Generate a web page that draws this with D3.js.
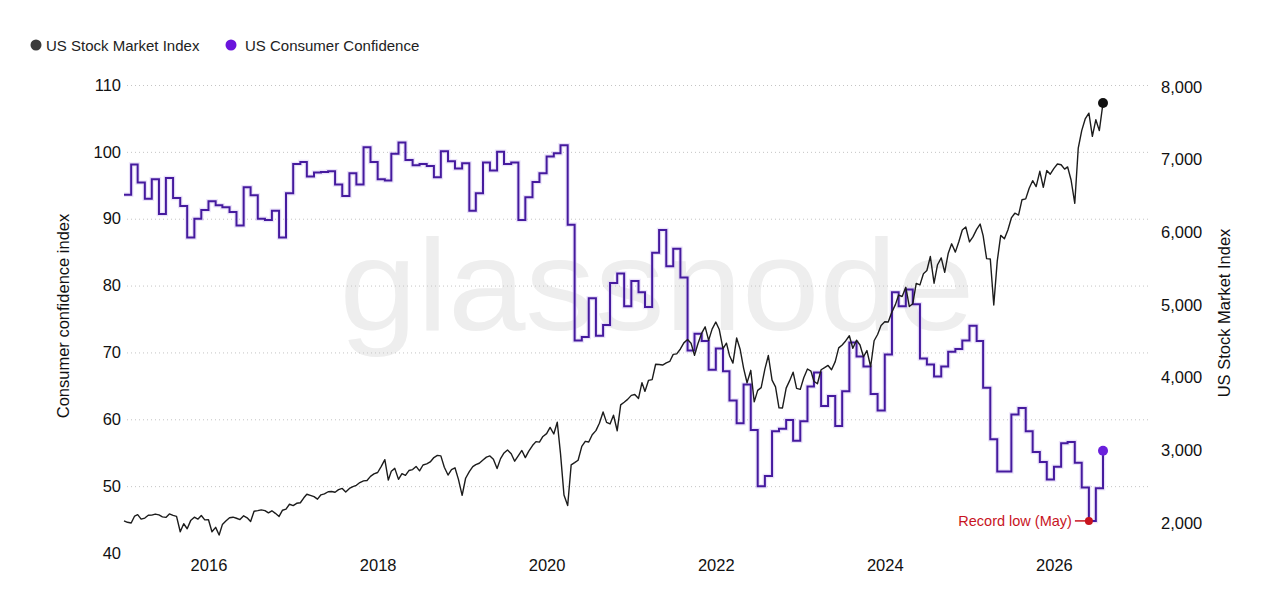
<!DOCTYPE html>
<head>
  <meta charset="utf-8">
  <script src="https://d3js.org/d3.v7.min.js"></script>
  <style>
    body { margin:0; background:#fff; }
    svg { font-family: "Liberation Sans", Arial, sans-serif; }
    .grid line { stroke:#c4c4c4; stroke-width:1; stroke-dasharray:1,3; }
    .axis text { font-size:16.5px; fill:#111; }
  </style>
</head>

<body>
<script>
  // Michigan consumer sentiment, monthly, from Dec 2014 (each value is drawn from the start of the next month)
  var confidenceStart = new Date(2014, 11, 1);
  var confidenceValues = [
    93.6,
    98.1, 95.4, 93.0, 95.9, 90.7, 96.1, 93.1, 91.9, 87.2, 90.0, 91.3, 92.6,   // 2015
    92.0, 91.7, 91.0, 89.0, 94.7, 93.5, 90.0, 89.8, 91.2, 87.2, 93.8, 98.2,   // 2016
    98.5, 96.3, 96.9, 97.0, 97.1, 95.1, 93.4, 96.8, 95.1, 100.7, 98.5, 95.9,  // 2017
    95.7, 99.7, 101.4, 98.8, 98.0, 98.2, 97.9, 96.2, 100.1, 98.6, 97.5, 98.3, // 2018
    91.2, 93.8, 98.4, 97.2, 100.0, 98.2, 98.4, 89.8, 93.2, 95.5, 96.8, 99.3,  // 2019
    99.8, 101.0, 89.1, 71.8, 72.3, 78.1, 72.5, 74.1, 80.4, 81.8, 76.9, 80.7,  // 2020
    79.0, 76.8, 84.9, 88.3, 82.9, 85.5, 81.2, 70.3, 72.8, 71.7, 67.4, 70.6,   // 2021
    67.2, 62.8, 59.4, 65.2, 58.4, 50.0, 51.5, 58.2, 58.6, 59.9, 56.8, 59.7,   // 2022
    64.9, 67.0, 62.0, 63.5, 59.0, 64.2, 71.5, 69.4, 67.9, 63.8, 61.3, 69.7,   // 2023
    79.0, 76.9, 79.4, 77.2, 69.1, 68.2, 66.4, 67.9, 70.1, 70.5, 71.8, 74.0,   // 2024
    71.7, 64.7, 57.0, 52.2, 52.2, 60.7, 61.7, 58.2, 55.1, 53.6, 51.0, 52.9,   // 2025
    56.4, 56.6, 53.5, 49.8, 44.8, 49.7, 55.3                                  // 2026
  ];

  // US stock market index, read twice a month (1st and 16th) from Jan 2015
  var stockValues = [
    2030, 2010, 2000, 2096, 2115, 2053, 2068, 2106, 2108, 2123, 2111, 2085, 2077, 2125, 2104, 2092, 1880, 1990, 1921, 2033, 2080, 2053, 2103, 2043, // 2015
    2044, 1880, 1940, 1835, 1978, 2027, 2072, 2080, 2065, 2047, 2099, 2072, 2020, 2161, 2170, 2180, 2171, 2139, 2168, 2133, 2090, 2176, 2191, 2258, // 2016
    2239, 2271, 2279, 2347, 2396, 2381, 2363, 2328, 2388, 2400, 2430, 2433, 2423, 2459, 2476, 2428, 2476, 2500, 2519, 2557, 2579, 2585, 2642, 2675, // 2017
    2695, 2776, 2872, 2590, 2713, 2752, 2600, 2678, 2655, 2722, 2735, 2779, 2718, 2798, 2813, 2840, 2901, 2930, 2924, 2768, 2660, 2736, 2760, 2600, // 2018
    2380, 2616, 2707, 2775, 2803, 2822, 2867, 2907, 2923, 2876, 2750, 2886, 2964, 3004, 2953, 2850, 2926, 2998, 2900, 2990, 3066, 3120, 3113, 3191, // 2019
    3230, 3316, 3225, 3386, 2954, 2386, 2240, 2799, 2830, 2864, 3055, 3124, 3115, 3215, 3271, 3372, 3527, 3385, 3363, 3483, 3270, 3626, 3662, 3701, // 2020
    3756, 3768, 3714, 3932, 3811, 3962, 3973, 4185, 4181, 4174, 4204, 4223, 4320, 4327, 4395, 4479, 4524, 4473, 4307, 4471, 4613, 4700, 4513, 4668, // 2021
    4766, 4662, 4400, 4475, 4306, 4200, 4545, 4392, 4132, 3930, 4101, 3667, 3825, 3863, 4118, 4305, 3966, 3873, 3585, 3583, 3856, 3959, 4076, 3852, // 2022
    3839, 3999, 4119, 4090, 3951, 3916, 4109, 4137, 4168, 4109, 4221, 4410, 4450, 4505, 4577, 4404, 4515, 4450, 4288, 4373, 4150, 4508, 4594, 4719, // 2023
    4770, 4766, 4906, 5005, 5137, 5117, 5243, 4980, 5018, 5297, 5277, 5431, 5475, 5667, 5300, 5554, 5648, 5450, 5708, 5842, 5728, 5870, 6032, 6074, // 2024
    5868, 5937, 6040, 6114, 5954, 5638, 5633, 5000, 5604, 5958, 5912, 6033, 6198, 6263, 6238, 6449, 6460, 6606, 6711, 6629, 6840, 6620, 6850, 6800, // 2025
    6880, 6940, 6930, 6870, 6900, 6720, 6400, 7160, 7400, 7560, 7640, 7320, 7550, 7400, 7780                                                    // 2026
  ];

  var confTicks = [40, 50, 60, 70, 80, 90, 100, 110];
  var stockTicks = [2000, 3000, 4000, 5000, 6000, 7000, 8000];
  var yearTicks = [2016, 2018, 2020, 2022, 2024, 2026];

  var confData = confidenceValues.map(function(v, i) {
    return {date: d3.timeMonth.offset(confidenceStart, i + 1), value: v};
  });
  var stockData = stockValues.map(function(v, i) {
    return {date: new Date(2015, Math.floor(i / 2), i % 2 ? 16 : 1), value: v};
  });

  var svg = d3.select("body").append("svg")
    .attr("width", 1280)
    .attr("height", 600);

  var x = d3.scaleTime()
    .domain([new Date(2015, 0, 1), new Date(2027, 1, 20)])
    .range([124, 1150]);
  var yConf = d3.scaleLinear().domain([40, 110]).range([553, 85]);
  var yStock = d3.scaleLinear().domain([2000, 8000]).range([523, 87]);

  // watermark
  svg.append("text")
    .attr("x", 657).attr("y", 330)
    .attr("text-anchor", "middle")
    .attr("textLength", 635)
    .attr("lengthAdjust", "spacingAndGlyphs")
    .style("font-size", "130px")
    .style("fill", "#eeeeee")
    .text("glassnode");

  // gridlines (left scale)
  svg.append("g").attr("class", "grid")
    .selectAll("line")
    .data(confTicks.filter(function(d) { return d > 40; }))
    .enter().append("line")
    .attr("x1", 127).attr("x2", 1150)
    .attr("y1", function(d) { return yConf(d) + 0.5; })
    .attr("y2", function(d) { return yConf(d) + 0.5; });

  // axes
  var gl = svg.append("g").attr("class", "axis")
    .attr("transform", "translate(124,0)")
    .call(d3.axisLeft(yConf).tickValues(confTicks).tickSize(0).tickPadding(3));
  var gr = svg.append("g").attr("class", "axis")
    .attr("transform", "translate(1150,0)")
    .call(d3.axisRight(yStock).tickValues(stockTicks).tickSize(0).tickPadding(11)
      .tickFormat(d3.format(",")));
  var gb = svg.append("g").attr("class", "axis")
    .attr("transform", "translate(0,553)")
    .call(d3.axisBottom(x)
      .tickValues(yearTicks.map(function(d) { return new Date(d, 0, 1); }))
      .tickFormat(d3.timeFormat("%Y")).tickSize(0).tickPadding(6));
  [gl, gr, gb].forEach(function(g) {
    g.select(".domain").remove();
    g.selectAll("text").attr("font-family", null).attr("font-size", null);
  });

  // axis titles
  svg.append("text")
    .attr("transform", "translate(63,316) rotate(-90)")
    .attr("text-anchor", "middle")
    .attr("dominant-baseline", "central")
    .style("font-size", "16.5px").style("fill", "#111")
    .text("Consumer confidence index");
  svg.append("text")
    .attr("transform", "translate(1224,313) rotate(-90)")
    .attr("text-anchor", "middle")
    .attr("dominant-baseline", "central")
    .style("font-size", "16.5px").style("fill", "#111")
    .text("US Stock Market Index");

  // consumer confidence (step line)
  var confLine = d3.line()
    .curve(d3.curveStepAfter)
    .x(function(d) { return x(d.date); })
    .y(function(d) { return yConf(d.value); });
  svg.append("path").datum(confData)
    .attr("d", confLine)
    .attr("fill", "none")
    .attr("stroke", "#d6c6f6")
    .attr("stroke-width", 4.5)
    .attr("stroke-opacity", 0.5);
  svg.append("path").datum(confData)
    .attr("d", confLine)
    .attr("fill", "none")
    .attr("stroke", "#451a9e")
    .attr("stroke-width", 2);

  // stock index
  var stockLine = d3.line()
    .x(function(d) { return x(d.date); })
    .y(function(d) { return yStock(d.value); });
  svg.append("path").datum(stockData)
    .attr("d", stockLine)
    .attr("fill", "none")
    .attr("stroke", "#1c1c1c")
    .attr("stroke-width", 1.4)
    .attr("stroke-linejoin", "round");

  // end dots
  var lastConf = confData[confData.length - 1];
  var lastStock = stockData[stockData.length - 1];
  svg.append("circle")
    .attr("cx", x(lastStock.date)).attr("cy", yStock(lastStock.value))
    .attr("r", 5).attr("fill", "#111");
  svg.append("circle")
    .attr("cx", x(lastConf.date)).attr("cy", yConf(lastConf.value))
    .attr("r", 5).attr("fill", "#6a1fdc");

  // record low annotation
  var low = confData[d3.minIndex(confData, function(d) { return d.value; })];
  var lx = x(low.date), ly = yConf(low.value);
  svg.append("line")
    .attr("x1", lx - 14).attr("x2", lx)
    .attr("y1", ly).attr("y2", ly)
    .attr("stroke", "#c8141e").attr("stroke-width", 1.5);
  svg.append("circle")
    .attr("cx", lx).attr("cy", ly).attr("r", 4)
    .attr("fill", "#c8141e");
  svg.append("text")
    .attr("x", lx - 17).attr("y", ly)
    .attr("text-anchor", "end")
    .attr("dominant-baseline", "central")
    .style("font-size", "14.5px").style("fill", "#c8141e")
    .text("Record low (May)");

  // legend
  var legend = [
    {name: "US Stock Market Index", color: "#3a3a3a", cx: 36, tx: 46},
    {name: "US Consumer Confidence", color: "#6a14dc", cx: 231, tx: 245}
  ];
  var lg = svg.append("g").selectAll("g").data(legend).enter().append("g");
  lg.append("circle")
    .attr("cx", function(d) { return d.cx; }).attr("cy", 45)
    .attr("r", 5.5).attr("fill", function(d) { return d.color; });
  lg.append("text")
    .attr("x", function(d) { return d.tx; }).attr("y", 45)
    .attr("dominant-baseline", "central")
    .style("font-size", "15px").style("fill", "#222")
    .text(function(d) { return d.name; });
</script>
</body>
